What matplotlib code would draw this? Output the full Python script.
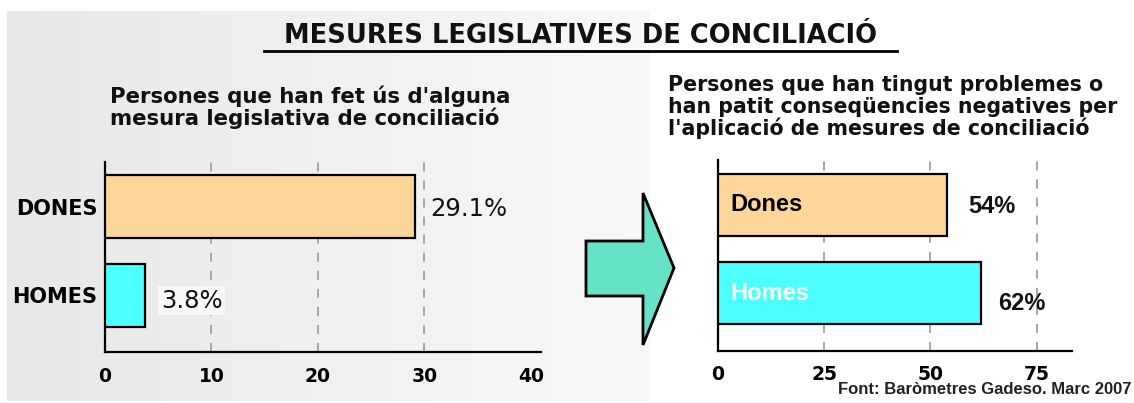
import numpy as np
import matplotlib.pyplot as plt
from matplotlib.patches import Polygon

# dades
left_cats = ['DONES', 'HOMES']
left_vals = [29.1, 3.8]
left_text = ['29.1%', '3.8%']
left_ticks = [0, 10, 20, 30, 40]

right_cats = ['Dones', 'Homes']
right_vals = [54, 62]
right_text = ['54%', '62%']
right_ticks = [0, 25, 50, 75]

bar_colors = ['#FFD699', '#4DFFFF']
cat_text_colors = ['black', 'white']

title = 'MESURES LEGISLATIVES DE CONCILIACIÓ'
left_sub = ["Persones que han fet ús d'alguna",
            "mesura legislativa de conciliació"]
right_sub = ["Persones que han tingut problemes o",
             "han patit conseqüencies negatives per",
             "l'aplicació de mesures de conciliació"]
source = 'Font: Baròmetres Gadeso. Marc 2007'

W, H = 1134, 403
fig = plt.figure(figsize=(W / 100, H / 100), dpi=100, facecolor='white')

# fons en pixels
bg = fig.add_axes([0, 0, 1, 1], zorder=0)
bg.axis('off')
grad = np.linspace(0.91, 0.975, 256)
grad = np.dstack([grad, grad, grad])
bg.imshow(grad, extent=(7, 650, 401, 11), aspect='auto', interpolation='bilinear')
bg.set_xlim(0, W)
bg.set_ylim(H, 0)

bg.text(580, 43, title, ha='center', va='baseline', fontsize=18.5,
        fontweight='bold', family='DejaVu Sans', color='#111111')
bg.plot([264, 897], [50.5, 50.5], color='black', lw=2)

for i, line in enumerate(left_sub):
    bg.text(110, 103 + 22 * i, line, ha='left', va='baseline', fontsize=15.3,
            fontweight='bold', family='DejaVu Sans', color='#111111')
for i, line in enumerate(right_sub):
    bg.text(668, 91 + 22 * i, line, ha='left', va='baseline', fontsize=14.8,
            fontweight='bold', family='DejaVu Sans', color='#111111')

arrow = Polygon([(586, 241), (643, 241), (643, 193), (674, 268),
                 (643, 345), (643, 296), (586, 296)],
                closed=True, facecolor='#66E2C6', edgecolor='black', lw=2)
bg.add_patch(arrow)

bg.text(1132, 390, source, ha='right', va='center', fontsize=12,
        fontweight='bold', family='Liberation Sans', color='#222222')


def px_axes(x0, y0, x1, y1):
    return fig.add_axes([x0 / W, 1 - y1 / H, (x1 - x0) / W, (y1 - y0) / H], zorder=2)


def style_axes(ax):
    ax.set_facecolor('none')
    for side in ['top', 'right']:
        ax.spines[side].set_visible(False)
    for side in ['left', 'bottom']:
        ax.spines[side].set_linewidth(1.6)
        ax.spines[side].set_color('black')
    ax.tick_params(length=0)


# grafic esquerre
ax1 = px_axes(105, 162, 541, 352)
style_axes(ax1)
pos = np.arange(len(left_cats))[::-1]
ax1.barh(pos, left_vals, height=0.712, color=bar_colors, edgecolor='black',
         linewidth=1.6, zorder=3)
for t in left_ticks[1:-1]:
    ax1.axvline(t, color='#a0a0a0', lw=1.3, linestyle=(0, (5, 5)), zorder=1)
ax1.set_xlim(0, 40.94)
ax1.set_ylim(-0.644, 1.503)
ax1.set_xticks(left_ticks)
ax1.set_xticklabels([str(t) for t in left_ticks], fontsize=13.5, fontweight='bold',
                    family='DejaVu Sans')
ax1.set_yticks(pos)
ax1.set_yticklabels(left_cats, fontsize=15, fontweight='bold', family='DejaVu Sans')
ax1.tick_params(axis='x', pad=11)
ax1.tick_params(axis='y', pad=5.5)
for p, v, s in zip(pos, left_vals, left_text):
    box = None
    if v < 10:
        box = dict(boxstyle='square,pad=0.1', facecolor='#f8f8f8', edgecolor='none')
    ax1.annotate(s, (v, p), xytext=(11, -4 if v < 10 else -2), textcoords='offset points',
                 ha='left', va='center', fontsize=17.5, family='DejaVu Sans',
                 color='#111111', bbox=box)

# grafic dret
ax2 = px_axes(718, 160, 1072, 351)
style_axes(ax2)
pos2 = np.arange(len(right_cats))[::-1]
ax2.barh(pos2, right_vals, height=0.70, color=bar_colors, edgecolor='black',
         linewidth=1.6, zorder=3)
for t in right_ticks[1:]:
    ax2.axvline(t, color='#a0a0a0', lw=1.3, linestyle=(0, (5, 5)), zorder=1)
ax2.set_xlim(0, 83.3)
ax2.set_ylim(-0.65, 1.508)
ax2.set_xticks(right_ticks)
ax2.set_xticklabels([str(t) for t in right_ticks], fontsize=13.5, fontweight='bold',
                    family='DejaVu Sans')
ax2.set_yticks([])
ax2.tick_params(axis='x', pad=10)
for p, v, name, s, c in zip(pos2, right_vals, right_cats, right_text, cat_text_colors):
    ax2.annotate(name, (0, p), xytext=(9, 0), textcoords='offset points',
                 ha='left', va='center', fontsize=17, fontweight='bold',
                 family='Liberation Sans', color=c, zorder=4)
    ax2.annotate(s, (v, p), xytext=(15 if p == 1 else 12, -1 if p == 1 else -7),
                 textcoords='offset points', ha='left', va='center', fontsize=17,
                 fontweight='bold', family='Liberation Sans', color='#111111')

fig.savefig('out.png', dpi=100, facecolor='white')
